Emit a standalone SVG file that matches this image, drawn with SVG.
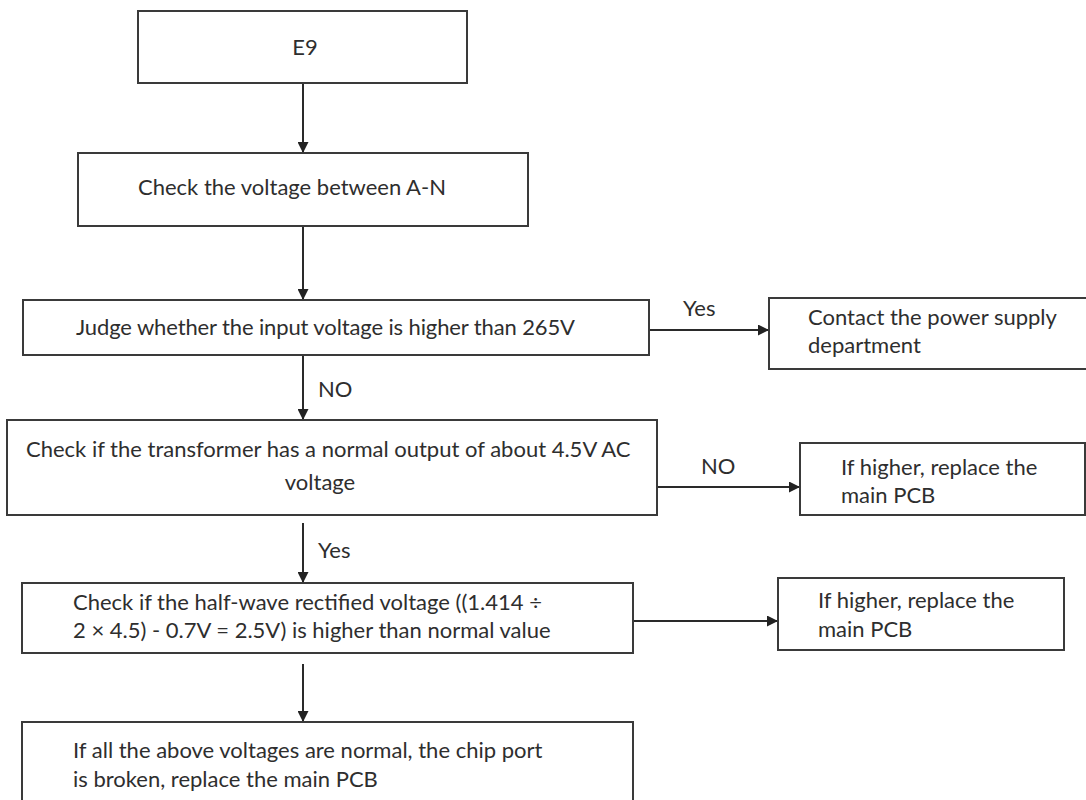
<svg xmlns="http://www.w3.org/2000/svg" width="1086" height="800" viewBox="0 0 1086 800">
<defs>
<marker id="arr" markerWidth="11" markerHeight="11" refX="10" refY="5.5" orient="auto" markerUnits="userSpaceOnUse">
<path d="M0,0 L11,5.5 L0,11 Z" fill="#222"/>
</marker>
<style>
.box{fill:#fff;stroke:#3a3a3a;stroke-width:2}
.t{font-family:Lato,"Liberation Sans",sans-serif;font-size:22px;fill:#2e2e2e}
.c{stroke:#2a2a2a;stroke-width:2;fill:none}
</style>
</defs>
<rect width="1086" height="800" fill="#fff"/>
<g id="connectors">
<line class="c" x1="303" y1="83" x2="303" y2="152" marker-end="url(#arr)"/>
<line class="c" x1="303" y1="226" x2="303" y2="299" marker-end="url(#arr)"/>
<line class="c" x1="303" y1="355" x2="303" y2="419" marker-end="url(#arr)"/>
<line class="c" x1="303" y1="523" x2="303" y2="582" marker-end="url(#arr)"/>
<line class="c" x1="303" y1="664" x2="303" y2="721" marker-end="url(#arr)"/>
<line class="c" x1="649" y1="330" x2="768" y2="330" marker-end="url(#arr)"/>
<line class="c" x1="657" y1="487" x2="799" y2="487" marker-end="url(#arr)"/>
<line class="c" x1="633" y1="621" x2="777" y2="621" marker-end="url(#arr)"/>
<text class="t" x="683" y="316">Yes</text>
<text class="t" x="318" y="397">NO</text>
<text class="t" x="701" y="474">NO</text>
<text class="t" x="318" y="558">Yes</text>
</g>
<g id="n1"><rect class="box" x="138" y="11" width="329" height="72"/><text class="t" x="305" y="55" text-anchor="middle">E9</text></g>
<g id="n2"><rect class="box" x="78" y="153" width="450" height="73"/><text class="t" x="292" y="195" text-anchor="middle">Check the voltage between A-N</text></g>
<g id="n3"><rect class="box" x="23" y="300" width="626" height="55"/><text class="t" x="76" y="335" textLength="499" lengthAdjust="spacing">Judge whether the input voltage is higher than 265V</text></g>
<g id="n4"><rect class="box" x="769" y="298" width="330" height="71"/><text class="t" x="808" y="325">Contact the power supply</text><text class="t" x="808" y="353">department</text></g>
<g id="n5"><rect class="box" x="7" y="420" width="650" height="95"/><text class="t" x="26" y="457">Check if the transformer has a normal output of about 4.5V AC</text><text class="t" x="320" y="490" text-anchor="middle">voltage</text></g>
<g id="n6"><rect class="box" x="800" y="443" width="285" height="72"/><text class="t" x="841" y="475">If higher, replace the</text><text class="t" x="841" y="503">main PCB</text></g>
<g id="n7"><rect class="box" x="22" y="583" width="611" height="70"/><text class="t" x="73" y="610">Check if the half-wave rectified voltage ((1.414 ÷</text><text class="t" x="73" y="638">2 × 4.5) - 0.7V = 2.5V) is higher than normal value</text></g>
<g id="n8"><rect class="box" x="778" y="578" width="286" height="72"/><text class="t" x="818" y="608">If higher, replace the</text><text class="t" x="818" y="637">main PCB</text></g>
<g id="n9"><rect class="box" x="22" y="722" width="611" height="90"/><text class="t" x="73" y="758">If all the above voltages are normal, the chip port</text><text class="t" x="73" y="787">is broken, replace the main PCB</text></g>
</svg>
